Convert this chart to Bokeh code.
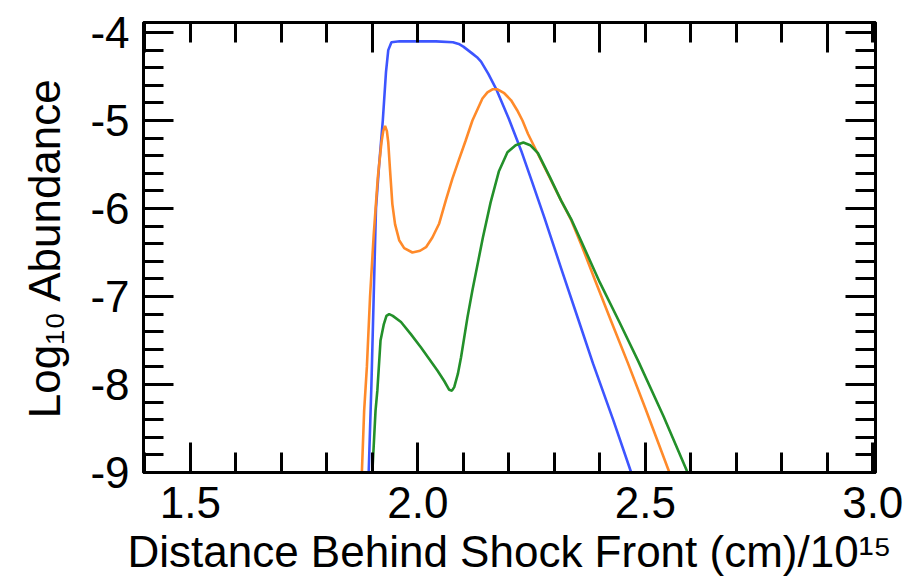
from bokeh.plotting import figure
from bokeh.models import Range1d, FixedTicker, LinearAxis
from bokeh.embed import file_html
from bokeh.resources import INLINE

# Data
blue_x = [1.892, 1.898, 1.903, 1.908, 1.915, 1.923, 1.930, 1.935, 1.942, 1.960, 2.000, 2.040,
          2.077, 2.090, 2.100, 2.110, 2.120, 2.130, 2.139, 2.155, 2.172, 2.200, 2.227, 2.250,
          2.278, 2.315, 2.352, 2.385, 2.430, 2.469]
blue_y = [-9.0, -8.0, -7.0, -6.0, -5.5, -5.0, -4.45, -4.2, -4.11, -4.10, -4.10, -4.10,
          -4.11, -4.13, -4.16, -4.20, -4.24, -4.28, -4.33, -4.47, -4.64, -4.98, -5.34, -5.68,
          -6.10, -6.68, -7.25, -7.76, -8.41, -9.0]

orange_x = [1.877, 1.882, 1.888, 1.895, 1.903, 1.912, 1.920, 1.924, 1.928, 1.932, 1.935,
            1.939, 1.944, 1.950, 1.959, 1.970, 1.988, 2.005, 2.018, 2.032, 2.047, 2.062,
            2.076, 2.090, 2.105, 2.120, 2.142, 2.153, 2.164, 2.175, 2.190, 2.205, 2.218,
            2.230, 2.242, 2.264, 2.290, 2.315, 2.337, 2.360, 2.390, 2.425, 2.462, 2.500,
            2.553]
orange_y = [-9.0, -8.3, -7.8, -7.0, -6.3, -5.65, -5.25, -5.12, -5.06, -5.12, -5.25,
            -5.57, -5.95, -6.18, -6.36, -6.45, -6.50, -6.48, -6.44, -6.33, -6.17, -5.90,
            -5.66, -5.45, -5.23, -5.00, -4.75, -4.68, -4.645, -4.645, -4.69, -4.77, -4.88,
            -5.00, -5.15, -5.38, -5.65, -5.91, -6.13, -6.42, -6.82, -7.28, -7.76, -8.27,
            -9.0]

green_x = [1.900, 1.907, 1.911, 1.918, 1.925, 1.931, 1.937, 1.945, 1.963, 1.985, 2.007,
           2.025, 2.043, 2.058, 2.069, 2.075, 2.080, 2.088, 2.095, 2.109, 2.120, 2.143,
           2.160, 2.178, 2.197, 2.215, 2.232, 2.247, 2.264, 2.290, 2.315, 2.337, 2.359,
           2.400, 2.443, 2.485, 2.540, 2.593]
green_y = [-9.0, -8.30, -8.07, -7.50, -7.32, -7.22, -7.20, -7.22, -7.29, -7.43, -7.58,
           -7.71, -7.84, -7.96, -8.06, -8.07, -8.03, -7.88, -7.69, -7.24, -6.93, -6.33,
           -5.93, -5.58, -5.36, -5.28, -5.25, -5.28, -5.37, -5.64, -5.91, -6.12, -6.37,
           -6.84, -7.29, -7.74, -8.36, -9.0]

x_major = [1.5, 2.0, 2.5, 3.0]
x_labels = ["1.5", "2.0", "2.5", "3.0"]
x_minor = [round(1.4 + 0.1 * i, 1) for i in range(17)]
x_top_major = [1.4, 1.9, 2.4, 2.9]
y_major = [-9, -8, -7, -6, -5, -4]
y_labels = ["-9", "-8", "-7", "-6", "-5", "-4"]
y_minor = [round(-9 + 0.2 * i, 1) for i in range(26)]

x_title = "Distance Behind Shock Front (cm)/10¹⁵"
y_title = "Log₁₀ Abundance"

FONT = "Liberation Sans"

p = figure(width=919, height=581, x_range=Range1d(1.397, 3.006), y_range=Range1d(-9.0, -3.886),
           output_backend="svg", toolbar_location=None,
           x_axis_location=None, y_axis_location=None,
           min_border_left=143, min_border_right=44, min_border_top=22, min_border_bottom=109)
p.grid.visible = False
p.background_fill_color = "white"
p.border_fill_color = "white"
p.outline_line_color = "black"
p.outline_line_width = 3

p.line(blue_x, blue_y, line_color="#3d55ff", line_width=2.6)
p.line(orange_x, orange_y, line_color="#ff8a2a", line_width=2.6)
p.line(green_x, green_y, line_color="#23902a", line_width=2.6)

bottom = LinearAxis(ticker=FixedTicker(ticks=x_major, minor_ticks=x_minor),
                    axis_label=x_title,
                    major_label_overrides=dict(zip(x_major, x_labels)))
left = LinearAxis(ticker=FixedTicker(ticks=y_major, minor_ticks=y_minor),
                  axis_label=y_title,
                  major_label_overrides=dict(zip(y_major, y_labels)))
top = LinearAxis(ticker=FixedTicker(ticks=x_top_major, minor_ticks=x_minor))
right = LinearAxis(ticker=FixedTicker(ticks=y_major, minor_ticks=y_minor))
p.add_layout(bottom, "below")
p.add_layout(left, "left")
p.add_layout(top, "above")
p.add_layout(right, "right")

for ax in [bottom, left, top, right]:
    ax.axis_line_width = 3
    ax.axis_line_color = "black"
    ax.major_tick_in = 30
    ax.major_tick_out = 0
    ax.minor_tick_in = 20
    ax.minor_tick_out = 0
    ax.major_tick_line_width = 3
    ax.minor_tick_line_width = 3
    ax.major_tick_line_color = "black"
    ax.minor_tick_line_color = "black"
    ax.major_label_text_font = FONT
    ax.major_label_text_font_size = "44px"
    ax.major_label_text_color = "black"
    ax.axis_label_text_font = FONT
    ax.axis_label_text_font_size = "44px"
    ax.axis_label_text_font_style = "normal"
    ax.axis_label_text_color = "black"

for ax in [top, right]:
    ax.major_label_text_font_size = "1px"
    ax.major_label_text_color = None
    ax.major_label_standoff = 0

bottom.major_label_standoff = 14
bottom.axis_label_standoff = 6
left.major_label_standoff = 14
left.axis_label_standoff = 18

open("out.html", "w").write(file_html(p, INLINE))
